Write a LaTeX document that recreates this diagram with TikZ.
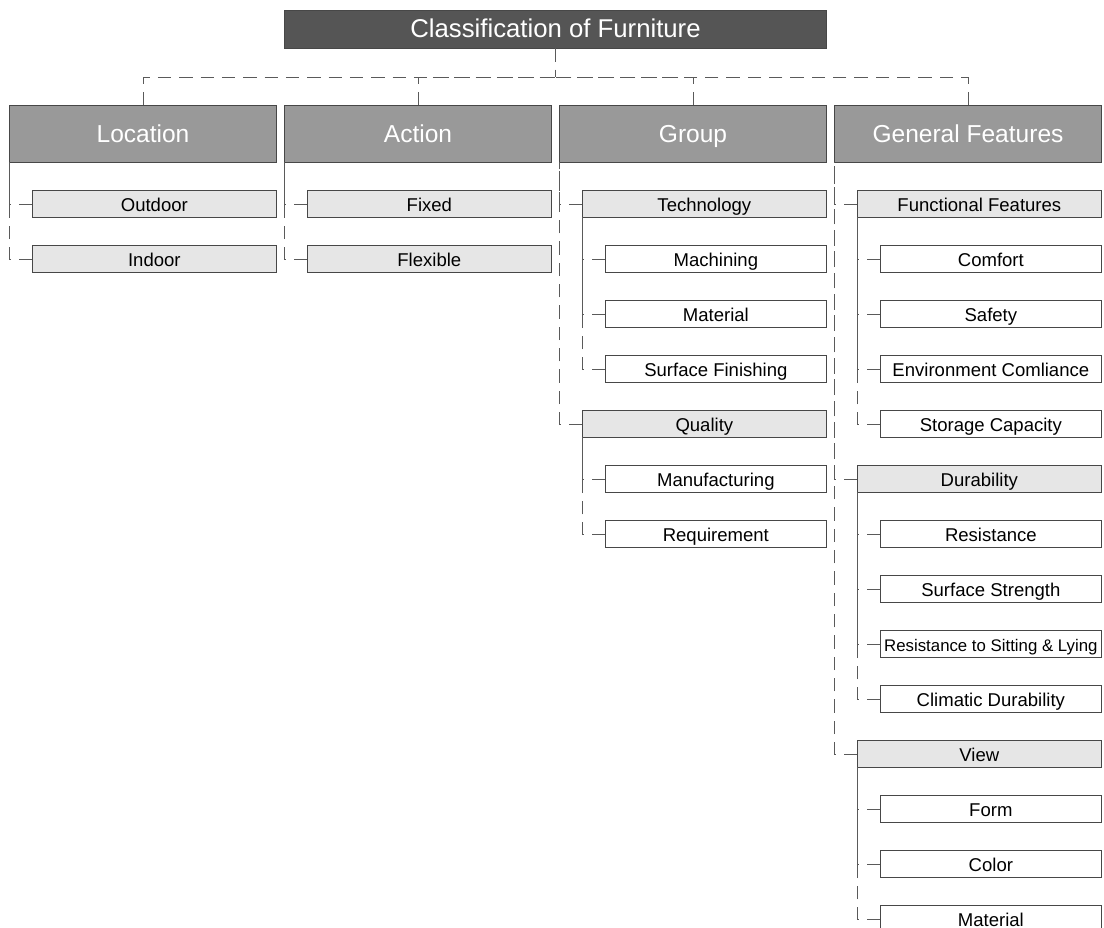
\documentclass[tikz,border=0pt]{standalone}
\usepackage{fontspec}
\setmainfont{Liberation Sans}
\definecolor{rootfill}{HTML}{555555}
\definecolor{headfill}{HTML}{999999}
\definecolor{subfill}{HTML}{E6E6E6}
\definecolor{boxline}{HTML}{474747}
\definecolor{linkline}{HTML}{5A5A5A}
\tikzset{
  basebox/.style={draw=boxline, line width=0.75pt, inner sep=0pt, outer sep=0pt},
  rootbox/.style={basebox, fill=rootfill, text=white, minimum height=37.6*0.75pt,
    font=\fontsize{19.3pt}{22pt}\selectfont, text height=11.7pt, text depth=0pt},
  headbox/.style={basebox, fill=headfill, text=white, minimum height=57.3*0.75pt,
    font=\fontsize{18.4pt}{22pt}\selectfont, text height=13.6pt, text depth=0pt},
  subbox/.style={basebox, fill=subfill, text=black, minimum height=26.6*0.75pt,
    font=\fontsize{13.9pt}{16pt}\selectfont, text height=11pt, text depth=0pt},
  leafbox/.style={subbox, fill=white},
  link/.style={draw=linkline, line width=0.75pt, dash pattern=on 10pt off 6pt}
}
% \cbox{name}{style}{left}{right}{centre y}{text}
\newcommand\cbox[6]{%
  \node[#2, minimum width={(#4-#3)*0.75pt}] (#1) at ({(#3+#4)/2},#5) {#6};}
% row centres
\newcommand\rowy[1]{\the\numexpr204+55*#1\relax}
\begin{document}
\begin{tikzpicture}[x=0.75pt,y=-0.75pt]
\useasboundingbox (0,0) rectangle (1104,928);

% top
\cbox{root}{rootbox}{284.3}{826.7}{29.5}{Classification of Furniture}

% main categories
\cbox{loc}{headbox}{9.3}{276.7}{133.65}{Location}
\cbox{act}{headbox}{284.3}{551.7}{133.65}{Action}
\cbox{grp}{headbox}{559.3}{826.7}{133.65}{Group}
\cbox{gen}{headbox}{834.3}{1101.7}{133.65}{General Features}

% Location
\cbox{outdoor}{subbox}{32}{276.7}{\rowy{0}}{Outdoor}
\cbox{indoor}{subbox}{32}{276.7}{\rowy{1}}{Indoor}

% Action
\cbox{fixed}{subbox}{307}{551.7}{\rowy{0}}{Fixed}
\cbox{flexible}{subbox}{307}{551.7}{\rowy{1}}{Flexible}

% Group
\cbox{tech}{subbox}{582}{826.7}{\rowy{0}}{Technology}
\cbox{mach}{leafbox}{605}{826.7}{\rowy{1}}{Machining}
\cbox{gmat}{leafbox}{605}{826.7}{\rowy{2}}{Material}
\cbox{surf}{leafbox}{605}{826.7}{\rowy{3}}{Surface Finishing}
\cbox{qual}{subbox}{582}{826.7}{\rowy{4}}{Quality}
\cbox{manu}{leafbox}{605}{826.7}{\rowy{5}}{Manufacturing}
\cbox{requ}{leafbox}{605}{826.7}{\rowy{6}}{Requirement}

% General Features
\cbox{func}{subbox}{857}{1101.7}{\rowy{0}}{Functional Features}
\cbox{comf}{leafbox}{880}{1101.7}{\rowy{1}}{Comfort}
\cbox{safe}{leafbox}{880}{1101.7}{\rowy{2}}{Safety}
\cbox{envi}{leafbox}{880}{1101.7}{\rowy{3}}{Environment Comliance}
\cbox{stor}{leafbox}{880}{1101.7}{\rowy{4}}{Storage Capacity}
\cbox{dura}{subbox}{857}{1101.7}{\rowy{5}}{Durability}
\cbox{resi}{leafbox}{880}{1101.7}{\rowy{6}}{Resistance}
\cbox{sstr}{leafbox}{880}{1101.7}{\rowy{7}}{Surface Strength}
\cbox{sitt}{leafbox}{880}{1101.7}{\rowy{8}}{\fontsize{12.6pt}{14pt}\selectfont Resistance to Sitting \& Lying}
\cbox{clim}{leafbox}{880}{1101.7}{\rowy{9}}{Climatic Durability}
\cbox{view}{subbox}{857}{1101.7}{\rowy{10}}{View}
\cbox{form}{leafbox}{880}{1101.7}{\rowy{11}}{Form}
\cbox{colr}{leafbox}{880}{1101.7}{\rowy{12}}{Color}
\cbox{vmat}{leafbox}{880}{1101.7}{\rowy{13}}{Material}

% connectors: top level (shared bus below the title)
\coordinate (bus) at (555.5,77.3);
\draw[link] (root.south) -- (bus);
\foreach \h in {loc,act,grp,gen}
  \draw[link] (\h.north) |- (bus);

% connectors: categories to subgroups, subgroups to items
\foreach \p/\c in {loc/outdoor, loc/indoor, act/fixed, act/flexible,
                   grp/tech, grp/qual, gen/func, gen/dura, gen/view,
                   tech/mach, tech/gmat, tech/surf, qual/manu, qual/requ,
                   func/comf, func/safe, func/envi, func/stor,
                   dura/resi, dura/sstr, dura/sitt, dura/clim,
                   view/form, view/colr, view/vmat}
  \draw[link] (\c.west) -| (\p.south west);
\end{tikzpicture}
\end{document}
